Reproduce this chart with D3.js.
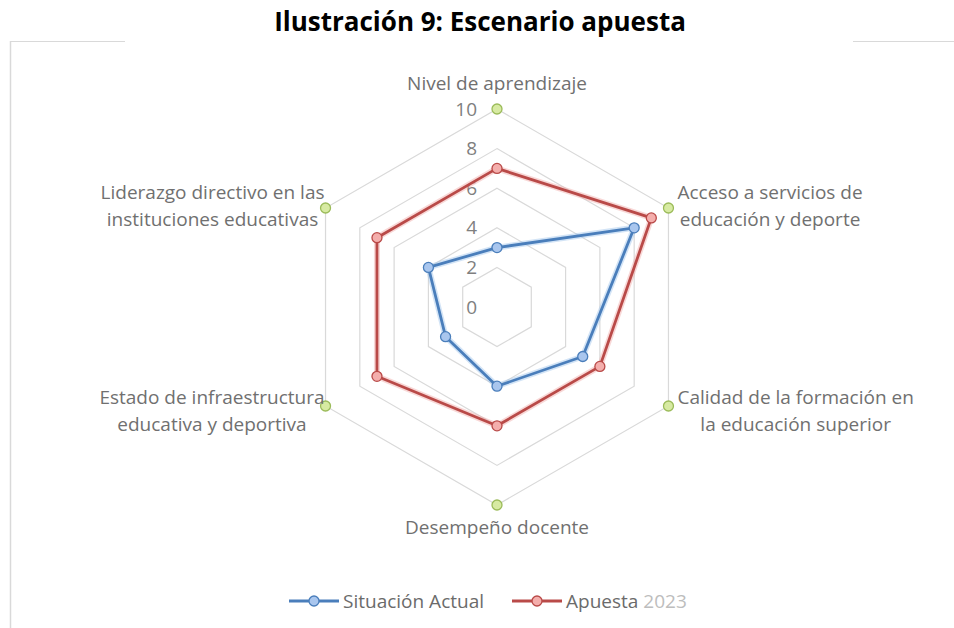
<!DOCTYPE html>
<html>
<head>
<meta charset="utf-8">
<script src="https://cdn.jsdelivr.net/npm/d3@7"></script>
<style>
  body { margin: 0; background: #fff; }
  svg { display: block; font-family: 'Open Sans', sans-serif; }
</style>
</head>
<body>
<div id="chart"></div>
<script>
// axis categories (clockwise from the top)
const categories = [
  ['Nivel de aprendizaje'],
  ['Acceso a servicios de', 'educación y deporte'],
  ['Calidad de la formación en', 'la educación superior'],
  ['Desempeño docente'],
  ['Estado de infraestructura', 'educativa y deportiva'],
  ['Liderazgo directivo en las', 'instituciones educativas'],
];
const situacionActual = [3, 8, 5, 4, 3, 4];
const apuesta2023 = [7, 9, 6, 6, 7, 7];
const maximo = [10, 10, 10, 10, 10, 10];
const ticks = [0, 2, 4, 6, 8, 10];

const width = 954;
const height = 628;
const cx = 497;
const cy = 307;
const radius = 198;
const fontSize = '19px';

const svg = d3
  .select('#chart')
  .append('svg')
  .attr('width', width)
  .attr('height', height);

// frame lines of the chart area
svg.append('line').attr('x1', 10).attr('x2', 125).attr('y1', 41.5).attr('y2', 41.5)
  .attr('stroke', '#d9d9d9');
svg.append('line').attr('x1', 853).attr('x2', 954).attr('y1', 41.5).attr('y2', 41.5)
  .attr('stroke', '#d9d9d9');
svg.append('line').attr('x1', 10.5).attr('x2', 10.5).attr('y1', 41).attr('y2', 628)
  .attr('stroke', '#d9d9d9').attr('stroke-width', 1.5);

svg
  .append('text')
  .attr('x', 480)
  .attr('y', 31)
  .attr('text-anchor', 'middle')
  .attr('font-weight', 'bold')
  .attr('font-size', '26px')
  .attr('fill', '#000')
  .text('Ilustración 9: Escenario apuesta');

const r = d3.scaleLinear().domain([0, 10]).range([0, radius]);
const angle = d3.scaleLinear().domain([0, categories.length]).range([0, 2 * Math.PI]);
const point = (v, i) => [cx + r(v) * Math.sin(angle(i)), cy - r(v) * Math.cos(angle(i))];

// gridline hexagons
const grid = svg.append('g');
ticks.filter((t) => t > 0).forEach((t) => {
  grid
    .append('path')
    .attr('d', d3.line()(categories.map((c, i) => point(t, i))) + 'Z')
    .attr('fill', 'none')
    .attr('stroke', '#d9d9d9')
    .attr('stroke-width', 1.2);
});

// tick labels
svg
  .append('g')
  .selectAll('text')
  .data(ticks)
  .join('text')
  .attr('x', cx - 20)
  .attr('y', (d) => cy - r(d))
  .attr('dy', '0.35em')
  .attr('text-anchor', 'end')
  .attr('font-size', fontSize)
  .attr('fill', '#7f7f7f')
  .text((d) => d);

const series = [
  { values: situacionActual, stroke: '#4a7ebb', fill: '#a9c6ee', glow: '#9dc3ec' },
  { values: apuesta2023, stroke: '#b94a48', fill: '#f4aeac', glow: '#f0a8a6' },
];

series.forEach((s) => {
  const pts = s.values.map((v, i) => point(v, i));
  const d = d3.line()(pts) + 'Z';
  svg.append('path').attr('d', d).attr('fill', 'none')
    .attr('stroke', s.glow).attr('stroke-opacity', 0.45).attr('stroke-width', 6)
    .attr('stroke-linejoin', 'round');
  svg.append('path').attr('d', d).attr('fill', 'none')
    .attr('stroke', s.stroke).attr('stroke-width', 2.8).attr('stroke-linejoin', 'round');
  svg.append('g')
    .selectAll('circle')
    .data(pts)
    .join('circle')
    .attr('cx', (p) => p[0])
    .attr('cy', (p) => p[1])
    .attr('r', 5)
    .attr('fill', s.fill)
    .attr('stroke', s.stroke)
    .attr('stroke-width', 1.3);
});

// outer markers
svg.append('g')
  .selectAll('circle')
  .data(maximo.map((v, i) => point(v, i)))
  .join('circle')
  .attr('cx', (p) => p[0])
  .attr('cy', (p) => p[1])
  .attr('r', 5)
  .attr('fill', '#d7eaa2')
  .attr('stroke', '#9bbb59')
  .attr('stroke-width', 1.3);

// category labels
const labelG = svg.append('g').attr('font-size', fontSize).attr('fill', '#707070');
categories.forEach((lines, i) => {
  const [px, py] = point(10, i);
  const sx = Math.sin(angle(i));
  const cyRel = Math.cos(angle(i));
  const t = labelG.append('text').attr('text-anchor', 'middle');
  const spans = lines.map((line) => t.append('tspan').text(line));
  const w = d3.max(spans, (sp) => sp.node().getComputedTextLength());
  let bx;
  if (Math.abs(sx) < 0.01) bx = px;
  else if (sx > 0) bx = px + 9 + w / 2;
  else bx = px - 1 - w / 2;
  let y0;
  if (Math.abs(sx) < 0.01) y0 = cyRel > 0 ? py - 26 : py + 22;
  else y0 = cyRel > 0 ? py - 16 : py - 9;
  spans.forEach((sp, k) => {
    sp.attr('x', bx).attr('y', y0 + k * 27).attr('dy', '0.35em');
  });
});

// legend
const legend = svg.append('g').attr('font-size', fontSize);
const legendItems = [
  { x: 289, name: 'Situación Actual', extra: '', s: series[0] },
  { x: 512, name: 'Apuesta', extra: '2023', s: series[1] },
];
legendItems.forEach((it) => {
  const g = legend.append('g').attr('transform', `translate(${it.x},601)`);
  g.append('line').attr('x1', 0).attr('x2', 50).attr('stroke', it.s.stroke).attr('stroke-width', 3);
  g.append('circle').attr('cx', 25).attr('r', 5).attr('fill', it.s.fill)
    .attr('stroke', it.s.stroke).attr('stroke-width', 1.3);
  const t = g.append('text').attr('x', 54).attr('dy', '0.35em').attr('fill', '#6b6b6b').text(it.name);
  if (it.extra) {
    t.append('tspan').attr('fill', '#bdbdbd').text(' ' + it.extra);
  }
});
</script>
</body>
</html>
